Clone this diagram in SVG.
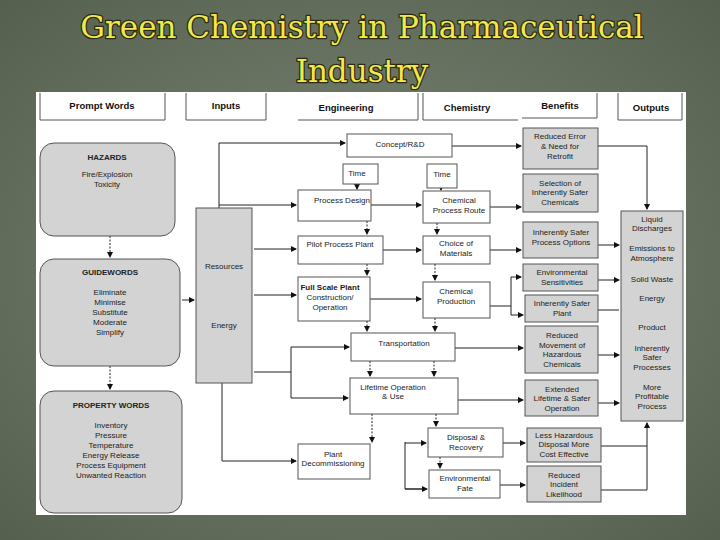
<svg xmlns="http://www.w3.org/2000/svg" width="720" height="540" viewBox="0 0 720 540">
<defs>
<radialGradient id="bg" cx="50%" cy="50%" r="70%"><stop offset="0" stop-color="#7d8878"/><stop offset="1" stop-color="#55604f"/></radialGradient>
<marker id="a" markerWidth="6" markerHeight="6" refX="5" refY="3" orient="auto" markerUnits="userSpaceOnUse"><path d="M0,0 L6,3 L0,6 z" fill="#111"/></marker>
</defs>
<style>
.t{font-family:"Liberation Sans",Arial,sans-serif;font-size:8px;fill:#222;text-anchor:middle}
.b{font-weight:bold}
.h{font-family:"Liberation Sans",Arial,sans-serif;font-size:9.5px;font-weight:bold;fill:#111;text-anchor:middle}
.w{fill:#fff;stroke:#555;stroke-width:1}
.g{fill:#d3d3d3;stroke:#555;stroke-width:1}
.c path{fill:none;stroke:#222;stroke-width:1;marker-end:url(#a)}
.c .n{marker-end:none}
.c .d{stroke-dasharray:2,1.5}
.ttl{font-family:"DejaVu Serif","Liberation Serif",serif;font-size:31px;fill:#f2e84a;stroke:#2a2a10;stroke-width:2.5;stroke-linejoin:round;text-anchor:middle;paint-order:stroke}
</style>
<rect width="720" height="540" fill="url(#bg)"/>
<text class="ttl" x="362" y="38">Green Chemistry in Pharmaceutical</text>
<text class="ttl" x="362" y="82">Industry</text>
<rect x="36" y="92" width="650" height="423" fill="#fff"/>
<g id="headers">
<path d="M40,93 V120 H165 V93 M186,93 V120 H266 V93 M298,120 H418 V93 M423,93 V120 H518 M522,118 H597 V93 M618,93 V120 H682 V93" fill="none" stroke="#555"/>
<text class="h" x="102" y="109">Prompt Words</text><text class="h" x="226" y="109">Inputs</text>
<text class="h" x="346" y="111">Engineering</text><text class="h" x="467" y="111">Chemistry</text>
<text class="h" x="560" y="109">Benefits</text><text class="h" x="651" y="111">Outputs</text>
</g>
<g id="connectors" class="c">
<path class="d" d="M110,236 V257"/><path class="d" d="M110,366 V389"/>
<path d="M182,300 H194"/>
<path class="n" d="M219,208 V143"/><path d="M219,143 H345"/><path d="M219,205 H296"/>
<path d="M254,249 H296"/><path d="M254,295 H296"/>
<path class="n" d="M254,372 H291 M291,347 V398"/><path d="M291,347 H349"/><path d="M291,398 H348"/>
<path class="n" d="M222,383 V461"/><path d="M222,461 H296"/>
<path d="M357,184 V189"/><path d="M441,188 V190"/>
<path class="d" d="M367,221 V234"/><path class="d" d="M367,264 V275"/>
<path class="d" d="M437,223 V234"/><path class="d" d="M435,264 V280"/>
<path class="d" d="M367,321 V331"/><path class="d" d="M435,318 V331"/>
<path class="d" d="M370,361 V376"/><path class="d" d="M434,361 V376"/>
<path class="d" d="M372,414 V442"/><path class="d" d="M436,414 V426"/><path class="d" d="M440,457 V468"/>
<path d="M371,205 H421"/><path d="M383,250 H421"/><path d="M370,299 H421"/>
<path d="M452,146 H521"/><path d="M490,207 H521"/><path d="M490,250 H521"/>
<path class="n" d="M490,306 H511 V277"/><path d="M511,277 H521"/><path class="n" d="M511,306 V315"/><path d="M511,315 H523"/>
<path d="M455,348 H523"/><path d="M458,400 H523"/><path d="M503,443 H525"/><path d="M500,485 H525"/>
<path class="n" d="M405,442 V489 H425"/><path d="M405,443 H426"/><path d="M405,489 H427"/>
<path class="n" d="M598,146 H647"/><path d="M647,146 V209"/>
<path d="M598,245 H619"/><path d="M598,280 H619"/><path class="n" d="M598,310 H619"/>
<path d="M598,355 H619"/><path d="M598,403 H619"/>
<path class="n" d="M601,446 H647 M601,490 H647"/><path d="M647,490 V423"/>
</g>
<g id="hazards"><rect class="g" x="40" y="143" width="135" height="93" rx="14"/><text class="t b" x="107" y="160">HAZARDS</text><text class="t" x="107" y="177">Fire/Explosion</text><text class="t" x="107" y="187">Toxicity</text></g>
<g id="guidewords"><rect class="g" x="40" y="259" width="140" height="107" rx="14"/><text class="t b" x="110" y="275">GUIDEWORDS</text><text class="t" x="110" y="295">Eliminate</text><text class="t" x="110" y="305">Minimise</text><text class="t" x="110" y="315">Substitute</text><text class="t" x="110" y="325">Moderate</text><text class="t" x="110" y="335">Simplify</text></g>
<g id="property"><rect class="g" x="40" y="391" width="142" height="122" rx="14"/><text class="t b" x="111" y="408">PROPERTY WORDS</text><text class="t" x="111" y="428">Inventory</text><text class="t" x="111" y="438">Pressure</text><text class="t" x="111" y="448">Temperature</text><text class="t" x="111" y="458">Energy Release</text><text class="t" x="111" y="468">Process Equipment</text><text class="t" x="111" y="478">Unwanted Reaction</text></g>
<g id="resources"><rect class="g" x="196" y="208" width="56" height="175"/><text class="t" x="224" y="269">Resources</text><text class="t" x="224" y="328">Energy</text></g>
<g id="concept"><rect class="w" x="347" y="134" width="105" height="23"/><text class="t" x="400" y="147">Concept/R&amp;D</text></g>
<g id="time1"><rect class="w" x="343" y="164" width="35" height="20"/><text class="t" x="357" y="176">Time</text></g>
<g id="time2"><rect class="w" x="427" y="164" width="30" height="24"/><text class="t" x="442" y="177">Time</text></g>
<g id="design"><rect class="w" x="298" y="190" width="73" height="31"/><text class="t" x="342" y="203">Process Design</text></g>
<g id="route"><rect class="w" x="423" y="191" width="67" height="32"/><text class="t" x="459" y="203">Chemical</text><text class="t" x="459" y="213">Process Route</text></g>
<g id="pilot"><rect class="w" x="298" y="236" width="85" height="28"/><text class="t" x="340" y="247">Pilot Process Plant</text></g>
<g id="materials"><rect class="w" x="423" y="236" width="67" height="28"/><text class="t" x="456" y="246">Choice of</text><text class="t" x="456" y="256">Materials</text></g>
<g id="fullscale"><rect class="w" x="298" y="277" width="72" height="44"/><text class="t b" x="330" y="290">Full Scale Plant</text><text class="t" x="330" y="300">Construction/</text><text class="t" x="330" y="310">Operation</text></g>
<g id="production"><rect class="w" x="423" y="282" width="67" height="36"/><text class="t" x="456" y="294">Chemical</text><text class="t" x="456" y="304">Production</text></g>
<g id="transport"><rect class="w" x="351" y="333" width="104" height="28"/><text class="t" x="404" y="346">Transportation</text></g>
<g id="lifetime"><rect class="w" x="350" y="378" width="108" height="36"/><text class="t" x="393" y="390">Lifetime Operation</text><text class="t" x="393" y="399">&amp; Use</text></g>
<g id="decom"><rect class="w" x="298" y="444" width="72" height="35"/><text class="t" x="333" y="457">Plant</text><text class="t" x="333" y="466">Decommissioning</text></g>
<g id="disposal"><rect class="w" x="428" y="428" width="75" height="29"/><text class="t" x="466" y="440">Disposal &amp;</text><text class="t" x="466" y="450">Recovery</text></g>
<g id="envfate"><rect class="w" x="429" y="470" width="71" height="28"/><text class="t" x="465" y="481">Environmental</text><text class="t" x="465" y="491">Fate</text></g>
<g id="b1"><rect class="g" x="523" y="128" width="75" height="41"/><text class="t" x="560" y="139">Reduced Error</text><text class="t" x="560" y="149">&amp; Need for</text><text class="t" x="560" y="159">Retrofit</text></g>
<g id="b2"><rect class="g" x="523" y="174" width="75" height="38"/><text class="t" x="560" y="186">Selection of</text><text class="t" x="560" y="195">Inherently Safer</text><text class="t" x="560" y="205">Chemicals</text></g>
<g id="b3"><rect class="g" x="523" y="222" width="75" height="36"/><text class="t" x="561" y="235">Inherently Safer</text><text class="t" x="561" y="245">Process Options</text></g>
<g id="b4"><rect class="g" x="523" y="264" width="75" height="27"/><text class="t" x="562" y="275">Environmental</text><text class="t" x="562" y="285">Sensitivities</text></g>
<g id="b5"><rect class="g" x="525" y="295" width="73" height="27"/><text class="t" x="562" y="306">Inherently Safer</text><text class="t" x="562" y="316">Plant</text></g>
<g id="b6"><rect class="g" x="525" y="326" width="73" height="47"/><text class="t" x="562" y="338">Reduced</text><text class="t" x="562" y="348">Movement of</text><text class="t" x="562" y="357">Hazardous</text><text class="t" x="562" y="367">Chemicals</text></g>
<g id="b7"><rect class="g" x="525" y="380" width="73" height="36"/><text class="t" x="562" y="392">Extended</text><text class="t" x="562" y="401">Lifetime &amp; Safer</text><text class="t" x="562" y="411">Operation</text></g>
<g id="b8"><rect class="g" x="527" y="428" width="74" height="34"/><text class="t" x="564" y="438">Less Hazardous</text><text class="t" x="564" y="447">Disposal More</text><text class="t" x="564" y="457">Cost Effective</text></g>
<g id="b9"><rect class="g" x="527" y="466" width="74" height="36"/><text class="t" x="564" y="478">Reduced</text><text class="t" x="564" y="487">Incident</text><text class="t" x="564" y="497">Likelihood</text></g>
<g id="outputs"><rect class="g" x="621" y="211" width="62" height="210"/>
<text class="t" x="652" y="222">Liquid</text><text class="t" x="652" y="231">Discharges</text><text class="t" x="652" y="251">Emissions to</text><text class="t" x="652" y="261">Atmosphere</text><text class="t" x="652" y="282">Solid Waste</text><text class="t" x="652" y="301">Energy</text><text class="t" x="652" y="330">Product</text><text class="t" x="652" y="351">Inherently</text><text class="t" x="652" y="360">Safer</text><text class="t" x="652" y="370">Processes</text><text class="t" x="652" y="390">More</text><text class="t" x="652" y="399">Profitable</text><text class="t" x="652" y="409">Process</text></g>
</svg>
